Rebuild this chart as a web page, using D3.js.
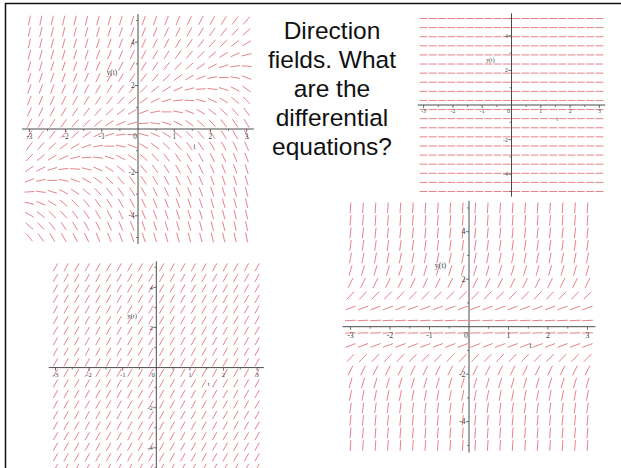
<!DOCTYPE html>
<html>
<head>
<meta charset="utf-8">
<script src="https://cdn.jsdelivr.net/npm/d3@7/dist/d3.min.js"></script>
<style>
  html, body { margin: 0; padding: 0; background: #fff; }
  svg { display: block; }
</style>
</head>
<body>
<svg id="slide" width="621" height="468"></svg>
<script>
// Sample points of the 20 x 20 direction-field grid (t across, y up)
const tGrid = [-3, -2.684, -2.368, -2.053, -1.737, -1.421, -1.105, -0.789, -0.474, -0.158,
               0.158, 0.474, 0.789, 1.105, 1.421, 1.737, 2.053, 2.368, 2.684, 3];
const yGrid = [-5, -4.474, -3.947, -3.421, -2.895, -2.368, -1.842, -1.316, -0.789, -0.263,
               0.263, 0.789, 1.316, 1.842, 2.368, 2.895, 3.421, 3.947, 4.474, 5];

// Axis ticks
const tTicks = [-3, -2, -1, 0, 1, 2, 3];
const tMinorTicks = [-2.5, -1.5, -0.5, 0.5, 1.5, 2.5];
const yTicks = [-4, -2, 2, 4];
const yMinorTicks = [-5, -3, -1, 1, 3, 5];
const tDomain = [-3.2, 3.2];
const yDomain = [-5.3, 5.3];

// Axis-name labels and where they sit, in data units
const axisNames = ["y(t)", "t"];
const axisNameAt = [[-0.72, 2.6], [1.56, -0.8]];

// Right-hand sides dy/dt = f(t, y) of the four fields
const fieldTopLeft = (t, y) => y - t;
const fieldTopRight = (t, y) => 0;
const fieldBottomLeft = (t, y) => 3;
const fieldBottomRight = (t, y) => y * y;

// Title text, one entry per line
const titleLines = ["Direction", "fields. What", "are the", "differential", "equations?"];

// Where each field sits: origin (t=0, y=0) in px and px per unit
const panelLayout = [
  { f: fieldTopLeft,     x0: 138.0, sx: 36.2, y0: 129.0, sy: 21.7 },
  { f: fieldTopRight,    x0: 511.5, sx: 29.3, y0: 105.0, sy: 17.3 },
  { f: fieldBottomLeft,  x0: 156.3, sx: 33.6, y0: 367.6, sy: 20.05 },
  { f: fieldBottomRight, x0: 469.0, sx: 39.5, y0: 326.7, sy: 23.75 }
];

const svg = d3.select("#slide");
svg.append("rect").attr("width", 621).attr("height", 468).attr("fill", "#fff");

function drawField(p) {
  const x = d3.scaleLinear().domain(tDomain)
    .range([p.x0 + tDomain[0] * p.sx, p.x0 + tDomain[1] * p.sx]);
  const y = d3.scaleLinear().domain(yDomain)
    .range([p.y0 - yDomain[0] * p.sy, p.y0 - yDomain[1] * p.sy]);
  const g = svg.append("g");

  const colStep = Math.abs(x(tGrid[1]) - x(tGrid[0]));
  const rowStep = Math.abs(y(yGrid[1]) - y(yGrid[0]));
  const half = 0.43 * Math.min(colStep, rowStep);

  const pts = [];
  yGrid.forEach(yv => tGrid.forEach(tv => pts.push([tv, yv])));

  g.append("g").selectAll("line").data(pts).join("line")
    .each(function (d) {
      const m = p.f(d[0], d[1]);
      // direction on screen for a unit step in t
      const dx = x(d[0] + 1) - x(d[0]);
      const dy = y(d[1] + m) - y(d[1]);
      const len = Math.hypot(dx, dy);
      const ux = dx / len * half, uy = dy / len * half;
      const cx = x(d[0]), cy = y(d[1]);
      d3.select(this)
        .attr("x1", cx - ux).attr("y1", cy - uy)
        .attr("x2", cx + ux).attr("y2", cy + uy);
    })
    .attr("stroke", "#e0646f")
    .attr("stroke-opacity", 0.85)
    .attr("stroke-width", 0.95)
    .attr("stroke-linecap", "butt");

  // axes through the origin
  const axisColor = "#4a4a4a";
  const fs = p.sx * 0.2;
  g.append("line")
    .attr("x1", x(tDomain[0])).attr("x2", x(tDomain[1]))
    .attr("y1", y(0)).attr("y2", y(0))
    .attr("stroke", axisColor).attr("stroke-width", 1);
  g.append("line")
    .attr("x1", x(0)).attr("x2", x(0))
    .attr("y1", y(yDomain[0])).attr("y2", y(yDomain[1]))
    .attr("stroke", axisColor).attr("stroke-width", 1);

  g.append("g").selectAll("line").data(tTicks.filter(v => v !== 0)).join("line")
    .attr("x1", d => x(d)).attr("x2", d => x(d))
    .attr("y1", y(0)).attr("y2", y(0) + 3)
    .attr("stroke", axisColor).attr("stroke-width", 0.8);
  g.append("g").selectAll("line").data(tMinorTicks).join("line")
    .attr("x1", d => x(d)).attr("x2", d => x(d))
    .attr("y1", y(0)).attr("y2", y(0) + 2)
    .attr("stroke", axisColor).attr("stroke-width", 0.7);
  g.append("g").selectAll("line").data(yTicks).join("line")
    .attr("x1", x(0) - 3).attr("x2", x(0))
    .attr("y1", d => y(d)).attr("y2", d => y(d))
    .attr("stroke", axisColor).attr("stroke-width", 0.8);
  g.append("g").selectAll("line").data(yMinorTicks).join("line")
    .attr("x1", x(0) - 2).attr("x2", x(0))
    .attr("y1", d => y(d)).attr("y2", d => y(d))
    .attr("stroke", axisColor).attr("stroke-width", 0.7);

  const labelFont = "'Liberation Serif', 'Times New Roman', serif";
  g.append("g").selectAll("text").data(tTicks).join("text")
    .attr("x", d => d === 0 ? x(0) - 3 : x(d))
    .attr("y", y(0) + fs * 1.4)
    .attr("text-anchor", "middle")
    .attr("font-family", labelFont).attr("font-size", fs)
    .attr("fill", "#444")
    .text(d => String(d));
  g.append("g").selectAll("text").data(yTicks).join("text")
    .attr("x", x(0) - 3.5)
    .attr("y", d => y(d) + fs * 0.35)
    .attr("text-anchor", "end")
    .attr("font-family", labelFont).attr("font-size", fs)
    .attr("fill", "#444")
    .text(d => String(d));
  g.append("g").selectAll("text").data(axisNames).join("text")
    .attr("x", (d, i) => x(axisNameAt[i][0]))
    .attr("y", (d, i) => y(axisNameAt[i][1]) + fs * 0.35)
    .attr("text-anchor", "middle")
    .attr("font-family", labelFont).attr("font-size", fs)
    .attr("fill", "#444")
    .text(d => d);
}

panelLayout.forEach(drawField);

// slide title
svg.append("g").selectAll("text").data(titleLines).join("text")
  .attr("x", 332)
  .attr("y", (d, i) => 39 + i * 29)
  .attr("text-anchor", "middle")
  .attr("font-family", "'Liberation Sans', Arial, sans-serif")
  .attr("font-size", 24.5)
  .attr("fill", "#111")
  .text(d => d);

// slide frame (top and left edges)
svg.append("line").attr("x1", 5).attr("x2", 621).attr("y1", 3.5).attr("y2", 3.5)
  .attr("stroke", "#111").attr("stroke-width", 1.5);
svg.append("line").attr("x1", 5.5).attr("x2", 5.5).attr("y1", 3).attr("y2", 468)
  .attr("stroke", "#111").attr("stroke-width", 1.5);
</script>
</body>
</html>
